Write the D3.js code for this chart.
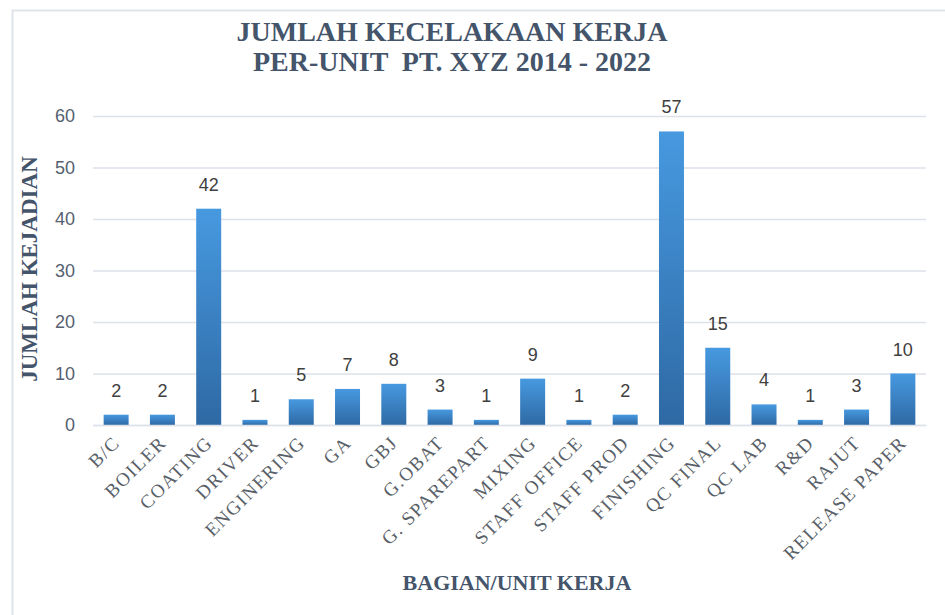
<!DOCTYPE html>
<html lang="id">
  <head>
    <meta charset="UTF-8" />
    <script src="https://d3js.org/d3.v7.min.js"></script>
    <title>Jumlah Kecelakaan Kerja</title>
    <style>
      body { margin: 0; background: #fff; }
      .serif { font-family: "Liberation Serif", "DejaVu Serif", serif; }
      .sans { font-family: "Liberation Sans", Arial, sans-serif; }
    </style>
  </head>
  <body>
    <svg width="945" height="615"></svg>
    <script>
      // data
      const categories = ["B/C", "BOILER", "COATING", "DRIVER", "ENGINERING", "GA", "GBJ", "G.OBAT",
        "G. SPAREPART", "MIXING", "STAFF OFFICE", "STAFF PROD", "FINISHING", "QC FINAL", "QC LAB",
        "R&D", "RAJUT", "RELEASE PAPER"];
      const values = [2, 2, 42, 1, 5, 7, 8, 3, 1, 9, 1, 2, 57, 15, 4, 1, 3, 10];
      const yTicks = [0, 10, 20, 30, 40, 50, 60];
      const titleLines = ["JUMLAH KECELAKAAN KERJA", "PER-UNIT  PT. XYZ 2014 - 2022"];

      const svg = d3.select("svg");
      const plotLeft = 93, plotRight = 926, plotTop = 116, plotBottom = 425;

      // border of the chart area
      svg.append("rect")
        .attr("x", 12.5).attr("y", 10.5)
        .attr("width", 960).attr("height", 640)
        .attr("fill", "#fff")
        .attr("stroke", "#dfe4ea")
        .attr("stroke-width", 2);

      const x = d3.scaleBand()
        .domain(categories)
        .range([plotLeft, plotRight])
        .paddingInner(0.46)
        .paddingOuter(0.23);

      const y = d3.scaleLinear()
        .domain([0, 60])
        .range([plotBottom, plotTop]);

      // gradient for bars
      const grad = svg.append("defs").append("linearGradient")
        .attr("id", "barGrad")
        .attr("x1", 0).attr("y1", 0).attr("x2", 0).attr("y2", 1);
      grad.append("stop").attr("offset", "0%").attr("stop-color", "#4799e0");
      grad.append("stop").attr("offset", "100%").attr("stop-color", "#2e69a4");

      // gridlines + y labels
      const yAxis = d3.axisLeft(y)
        .tickValues(yTicks)
        .tickSize(-(plotRight - plotLeft))
        .tickPadding(18);
      const gy = svg.append("g")
        .attr("transform", `translate(${plotLeft},0)`)
        .call(yAxis);
      gy.select(".domain").remove();
      gy.selectAll(".tick line").attr("stroke", "#dde2ea").attr("stroke-width", 1.5);
      gy.selectAll(".tick text")
        .attr("class", "sans")
        .attr("fill", "#556070")
        .style("font-size", "18px");

      // bars
      svg.append("g").selectAll("rect")
        .data(values)
        .join("rect")
        .attr("x", (d, i) => x(categories[i]))
        .attr("y", d => y(d))
        .attr("width", x.bandwidth())
        .attr("height", d => y(0) - y(d))
        .attr("fill", "url(#barGrad)");

      // data labels
      svg.append("g").selectAll("text")
        .data(values)
        .join("text")
        .attr("class", "sans")
        .attr("x", (d, i) => x(categories[i]) + x.bandwidth() / 2)
        .attr("y", d => y(d) - 18)
        .attr("text-anchor", "middle")
        .attr("fill", "#404040")
        .style("font-size", "18px")
        .text(d => d);

      // x axis
      const gx = svg.append("g")
        .attr("transform", `translate(0,${plotBottom})`)
        .call(d3.axisBottom(x).tickSize(0).tickFormat(""));
      gx.select(".domain").attr("stroke", "#dde2ea").attr("stroke-width", 1.5);

      svg.append("g").selectAll("text")
        .data(categories)
        .join("text")
        .attr("class", "serif")
        .attr("transform", d => `translate(${x(d) + x.bandwidth() / 2 + 5},${plotBottom + 19}) rotate(-45)`)
        .attr("text-anchor", "end")
        .attr("fill", "#595f68")
        .style("font-size", "19px")
        .style("letter-spacing", "1.5px")
        .text(d => d);

      // title
      svg.append("g").selectAll("text")
        .data(titleLines)
        .join("text")
        .attr("class", "serif")
        .attr("x", 452)
        .attr("y", (d, i) => 41 + i * 30)
        .attr("text-anchor", "middle")
        .attr("fill", "#44546a")
        .style("font-size", "28px")
        .style("font-weight", "bold")
        .style("white-space", "pre")
        .text(d => d);

      // axis titles
      svg.append("text")
        .attr("class", "serif")
        .attr("transform", "translate(37,269) rotate(-90)")
        .attr("text-anchor", "middle")
        .attr("fill", "#44546a")
        .style("font-size", "23px")
        .style("font-weight", "bold")
        .text("JUMLAH KEJADIAN");

      svg.append("text")
        .attr("class", "serif")
        .attr("x", 517)
        .attr("y", 590)
        .attr("text-anchor", "middle")
        .attr("fill", "#44546a")
        .style("font-size", "22px")
        .style("font-weight", "bold")
        .text("BAGIAN/UNIT KERJA");
    </script>
  </body>
</html>
